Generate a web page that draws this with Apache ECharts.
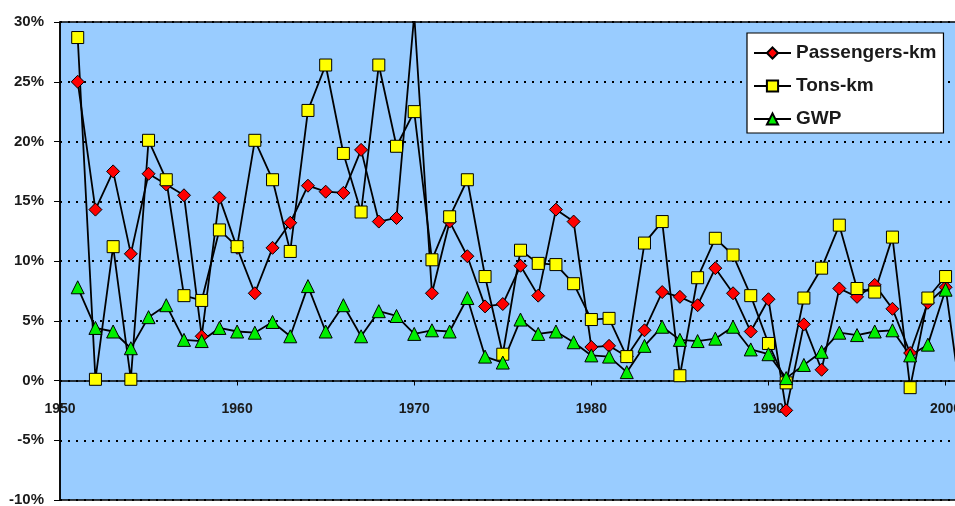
<!DOCTYPE html>
<html>
<head>
<meta charset="utf-8">
<title>Passengers-km / Tons-km / GWP</title>
<script src="https://cdn.jsdelivr.net/npm/echarts@6/dist/echarts.min.js"></script>
<style>
    html, body { margin: 0; padding: 0; background: #fff; }
    #chart { width: 955px; height: 506px; }
</style>
</head>
<body>
<div id="chart"></div>
<script>
/*年度增长率数据, 读自原图*/
var years = [1951,1952,1953,1954,1955,1956,1957,1958,1959,1960,
             1961,1962,1963,1964,1965,1966,1967,1968,1969,1970,
             1971,1972,1973,1974,1975,1976,1977,1978,1979,1980,
             1981,1982,1983,1984,1985,1986,1987,1988,1989,1990,
             1991,1992,1993,1994,1995,1996,1997,1998,1999,2000,2001];

var passengersKm = [25.0,14.3,17.5,10.6,17.3,16.4,15.5,3.7,15.3,11.1,
                    7.3,11.1,13.2,16.3,15.8,15.7,19.3,13.3,13.6,30.6,
                    7.3,13.3,10.4,6.2,6.4,9.6,7.1,14.3,13.3,2.8,
                    2.9,2.0,4.2,7.4,7.0,6.3,9.4,7.3,4.1,6.8,
                    -2.5,4.7,0.9,7.7,7.0,8.0,6.0,2.3,6.5,7.8,-3.0];

var tonsKm = [28.7,0.1,11.2,0.1,20.1,16.8,7.1,6.7,12.6,11.2,
              20.1,16.8,10.8,22.6,26.4,19.0,14.1,26.4,19.6,22.5,
              10.1,13.7,16.8,8.7,2.2,10.9,9.8,9.7,8.1,5.1,
              5.2,2.0,11.5,13.3,0.4,8.6,11.9,10.5,7.1,3.1,
              -0.2,6.9,9.4,13.0,7.7,7.4,12.0,-0.6,6.9,8.7];

var gwp = [7.8,4.4,4.1,2.7,5.3,6.3,3.4,3.3,4.4,4.1,
           4.0,4.9,3.7,7.9,4.1,6.3,3.7,5.8,5.4,3.9,
           4.2,4.1,6.9,2.0,1.5,5.1,3.9,4.1,3.2,2.1,
           2.0,0.7,2.9,4.5,3.4,3.3,3.5,4.5,2.6,2.2,
           0.2,1.3,2.4,4.0,3.8,4.1,4.2,2.1,3.0,7.6];

var seriesNames = ['Passengers-km', 'Tons-km', 'GWP'];

/**
 * 组合成 [年份, 值]
 */
function pairs(values) {
    var out = [];
    for (var i = 0; i < values.length; i++) {
        out.push([years[i], values[i]]);
    }
    return out;
}

var font = '"Liberation Sans", Arial, sans-serif';

function lineSeries(name, values, symbol, size, fill) {
    return {
        name: name,
        type: 'line',
        data: pairs(values),
        symbol: symbol,
        symbolSize: size,
        showAllSymbol: true,
        animation: false,
        lineStyle: { color: '#000', width: 1.8 },
        itemStyle: { color: fill, borderColor: '#000', borderWidth: 1 }
    };
}

//网格: 0%线位于 y=380.5, 底边 y=500
var gridTop = 22, gridHeight = 478;
var zeroOffset = -(gridHeight * 10 / 40);

var chart = echarts.init(document.getElementById('chart'));
chart.setOption({
    backgroundColor: '#fff',
    animation: false,
    grid: {
        left: 60, top: gridTop, width: 921, height: gridHeight,
        outerBoundsMode: 'none',
        containLabel: false,
        show: true,
        backgroundColor: '#99CCFF',
        borderColor: '#000',
        borderWidth: 1.5
    },
    legend: {
        data: seriesNames,
        orient: 'vertical',
        left: 747, top: 33,
        padding: [10, 7, 4, 6],
        itemWidth: 37, itemHeight: 14, itemGap: 13,
        backgroundColor: '#fff',
        borderColor: '#000',
        borderWidth: 1.2,
        textStyle: { fontFamily: font, fontSize: 19, fontWeight: 'bold', color: '#1a1a1a', lineHeight: 20 }
    },
    xAxis: {
        type: 'value',
        position: 'bottom',
        offset: zeroOffset,
        min: 1950, max: 2002, interval: 10,
        axisLine: { onZero: false, lineStyle: { color: '#000', width: 1.5 } },
        axisTick: { show: true, length: 5, lineStyle: { color: '#000' } },
        axisLabel: {
            margin: 22,
            fontFamily: font, fontSize: 14, fontWeight: 'bold', color: '#1a1a1a',
            formatter: function (v) { return v % 10 === 0 ? String(v) : ''; }
        },
        splitLine: { show: false }
    },
    yAxis: {
        type: 'value',
        min: -10, max: 30, interval: 5,
        axisLine: { show: true, onZero: false, lineStyle: { color: '#000', width: 1.5 } },
        axisTick: { show: true, length: 6, lineStyle: { color: '#000' } },
        axisLabel: {
            margin: 16,
            fontFamily: font, fontSize: 15, fontWeight: 'bold', color: '#1a1a1a',
            formatter: function (v) { return v + '%'; }
        },
        splitLine: { show: true, lineStyle: { color: '#000', width: 2, type: [2, 6] } }
    },
    series: [
        lineSeries(seriesNames[0], passengersKm, 'diamond', 13, '#FF0000'),
        lineSeries(seriesNames[1], tonsKm, 'rect', 12, '#FFFF00'),
        lineSeries(seriesNames[2], gwp, 'triangle', 13, '#00EE00')
    ]
});
</script>
</body>
</html>
